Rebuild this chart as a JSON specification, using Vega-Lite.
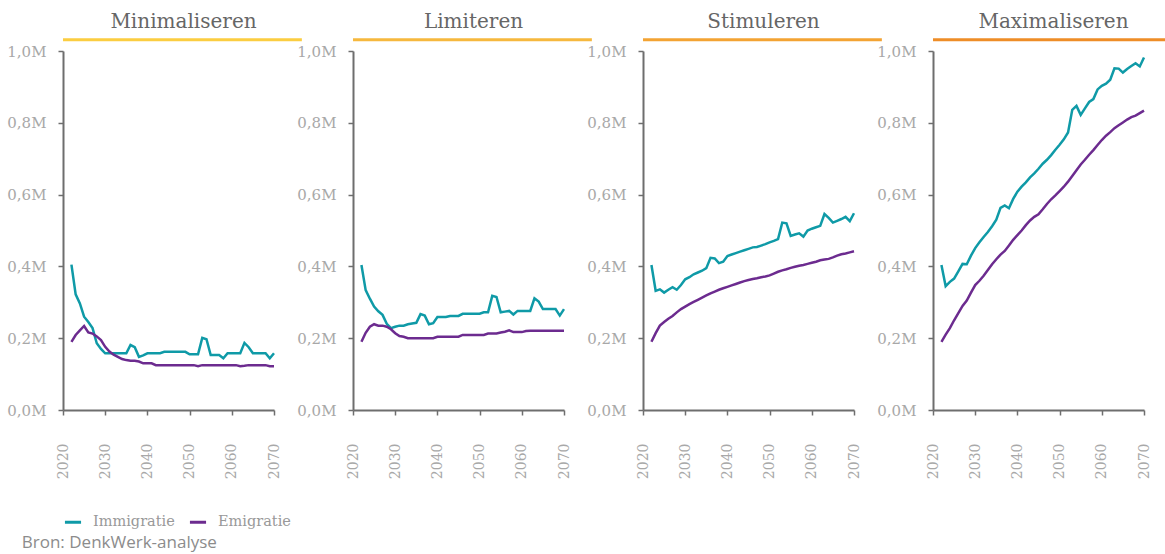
{
  "$schema": "https://vega.github.io/schema/vega-lite/v6.json",
  "background": "white",
  "padding": {"left": 6, "top": 12, "right": 0, "bottom": 2},
  "datasets": {
    "Minimaliseren": [
      {"type":"Immigratie","jaar":2022,"waarde":0.405},{"type":"Immigratie","jaar":2023,"waarde":0.322},{"type":"Immigratie","jaar":2024,"waarde":0.297},{"type":"Immigratie","jaar":2025,"waarde":0.26},{"type":"Immigratie","jaar":2026,"waarde":0.245},{"type":"Immigratie","jaar":2027,"waarde":0.228},{"type":"Immigratie","jaar":2028,"waarde":0.186},{"type":"Immigratie","jaar":2029,"waarde":0.17},{"type":"Immigratie","jaar":2030,"waarde":0.158},{"type":"Immigratie","jaar":2031,"waarde":0.158},{"type":"Immigratie","jaar":2032,"waarde":0.158},{"type":"Immigratie","jaar":2033,"waarde":0.158},{"type":"Immigratie","jaar":2034,"waarde":0.158},{"type":"Immigratie","jaar":2035,"waarde":0.158},{"type":"Immigratie","jaar":2036,"waarde":0.181},{"type":"Immigratie","jaar":2037,"waarde":0.175},{"type":"Immigratie","jaar":2038,"waarde":0.148},{"type":"Immigratie","jaar":2039,"waarde":0.152},{"type":"Immigratie","jaar":2040,"waarde":0.158},{"type":"Immigratie","jaar":2041,"waarde":0.158},{"type":"Immigratie","jaar":2042,"waarde":0.158},{"type":"Immigratie","jaar":2043,"waarde":0.158},{"type":"Immigratie","jaar":2044,"waarde":0.162},{"type":"Immigratie","jaar":2045,"waarde":0.162},{"type":"Immigratie","jaar":2046,"waarde":0.162},{"type":"Immigratie","jaar":2047,"waarde":0.162},{"type":"Immigratie","jaar":2048,"waarde":0.162},{"type":"Immigratie","jaar":2049,"waarde":0.162},{"type":"Immigratie","jaar":2050,"waarde":0.155},{"type":"Immigratie","jaar":2051,"waarde":0.155},{"type":"Immigratie","jaar":2052,"waarde":0.155},{"type":"Immigratie","jaar":2053,"waarde":0.201},{"type":"Immigratie","jaar":2054,"waarde":0.197},{"type":"Immigratie","jaar":2055,"waarde":0.153},{"type":"Immigratie","jaar":2056,"waarde":0.153},{"type":"Immigratie","jaar":2057,"waarde":0.153},{"type":"Immigratie","jaar":2058,"waarde":0.144},{"type":"Immigratie","jaar":2059,"waarde":0.158},{"type":"Immigratie","jaar":2060,"waarde":0.158},{"type":"Immigratie","jaar":2061,"waarde":0.158},{"type":"Immigratie","jaar":2062,"waarde":0.158},{"type":"Immigratie","jaar":2063,"waarde":0.187},{"type":"Immigratie","jaar":2064,"waarde":0.175},{"type":"Immigratie","jaar":2065,"waarde":0.158},{"type":"Immigratie","jaar":2066,"waarde":0.158},{"type":"Immigratie","jaar":2067,"waarde":0.158},{"type":"Immigratie","jaar":2068,"waarde":0.158},{"type":"Immigratie","jaar":2069,"waarde":0.144},{"type":"Immigratie","jaar":2070,"waarde":0.158},
      {"type":"Emigratie","jaar":2022,"waarde":0.19},{"type":"Emigratie","jaar":2023,"waarde":0.209},{"type":"Emigratie","jaar":2024,"waarde":0.222},{"type":"Emigratie","jaar":2025,"waarde":0.234},{"type":"Emigratie","jaar":2026,"waarde":0.216},{"type":"Emigratie","jaar":2027,"waarde":0.213},{"type":"Emigratie","jaar":2028,"waarde":0.205},{"type":"Emigratie","jaar":2029,"waarde":0.195},{"type":"Emigratie","jaar":2030,"waarde":0.176},{"type":"Emigratie","jaar":2031,"waarde":0.163},{"type":"Emigratie","jaar":2032,"waarde":0.154},{"type":"Emigratie","jaar":2033,"waarde":0.148},{"type":"Emigratie","jaar":2034,"waarde":0.142},{"type":"Emigratie","jaar":2035,"waarde":0.139},{"type":"Emigratie","jaar":2036,"waarde":0.137},{"type":"Emigratie","jaar":2037,"waarde":0.137},{"type":"Emigratie","jaar":2038,"waarde":0.135},{"type":"Emigratie","jaar":2039,"waarde":0.13},{"type":"Emigratie","jaar":2040,"waarde":0.13},{"type":"Emigratie","jaar":2041,"waarde":0.13},{"type":"Emigratie","jaar":2042,"waarde":0.125},{"type":"Emigratie","jaar":2043,"waarde":0.125},{"type":"Emigratie","jaar":2044,"waarde":0.125},{"type":"Emigratie","jaar":2045,"waarde":0.125},{"type":"Emigratie","jaar":2046,"waarde":0.125},{"type":"Emigratie","jaar":2047,"waarde":0.125},{"type":"Emigratie","jaar":2048,"waarde":0.125},{"type":"Emigratie","jaar":2049,"waarde":0.125},{"type":"Emigratie","jaar":2050,"waarde":0.125},{"type":"Emigratie","jaar":2051,"waarde":0.125},{"type":"Emigratie","jaar":2052,"waarde":0.122},{"type":"Emigratie","jaar":2053,"waarde":0.125},{"type":"Emigratie","jaar":2054,"waarde":0.125},{"type":"Emigratie","jaar":2055,"waarde":0.125},{"type":"Emigratie","jaar":2056,"waarde":0.125},{"type":"Emigratie","jaar":2057,"waarde":0.125},{"type":"Emigratie","jaar":2058,"waarde":0.125},{"type":"Emigratie","jaar":2059,"waarde":0.125},{"type":"Emigratie","jaar":2060,"waarde":0.125},{"type":"Emigratie","jaar":2061,"waarde":0.125},{"type":"Emigratie","jaar":2062,"waarde":0.122},{"type":"Emigratie","jaar":2063,"waarde":0.123},{"type":"Emigratie","jaar":2064,"waarde":0.125},{"type":"Emigratie","jaar":2065,"waarde":0.125},{"type":"Emigratie","jaar":2066,"waarde":0.125},{"type":"Emigratie","jaar":2067,"waarde":0.125},{"type":"Emigratie","jaar":2068,"waarde":0.125},{"type":"Emigratie","jaar":2069,"waarde":0.122},{"type":"Emigratie","jaar":2070,"waarde":0.122}
    ],
    "Limiteren": [
      {"type":"Immigratie","jaar":2022,"waarde":0.404},{"type":"Immigratie","jaar":2023,"waarde":0.334},{"type":"Immigratie","jaar":2024,"waarde":0.31},{"type":"Immigratie","jaar":2025,"waarde":0.288},{"type":"Immigratie","jaar":2026,"waarde":0.275},{"type":"Immigratie","jaar":2027,"waarde":0.265},{"type":"Immigratie","jaar":2028,"waarde":0.24},{"type":"Immigratie","jaar":2029,"waarde":0.228},{"type":"Immigratie","jaar":2030,"waarde":0.232},{"type":"Immigratie","jaar":2031,"waarde":0.235},{"type":"Immigratie","jaar":2032,"waarde":0.235},{"type":"Immigratie","jaar":2033,"waarde":0.239},{"type":"Immigratie","jaar":2034,"waarde":0.241},{"type":"Immigratie","jaar":2035,"waarde":0.243},{"type":"Immigratie","jaar":2036,"waarde":0.267},{"type":"Immigratie","jaar":2037,"waarde":0.263},{"type":"Immigratie","jaar":2038,"waarde":0.239},{"type":"Immigratie","jaar":2039,"waarde":0.242},{"type":"Immigratie","jaar":2040,"waarde":0.259},{"type":"Immigratie","jaar":2041,"waarde":0.259},{"type":"Immigratie","jaar":2042,"waarde":0.259},{"type":"Immigratie","jaar":2043,"waarde":0.262},{"type":"Immigratie","jaar":2044,"waarde":0.262},{"type":"Immigratie","jaar":2045,"waarde":0.262},{"type":"Immigratie","jaar":2046,"waarde":0.268},{"type":"Immigratie","jaar":2047,"waarde":0.268},{"type":"Immigratie","jaar":2048,"waarde":0.268},{"type":"Immigratie","jaar":2049,"waarde":0.268},{"type":"Immigratie","jaar":2050,"waarde":0.268},{"type":"Immigratie","jaar":2051,"waarde":0.272},{"type":"Immigratie","jaar":2052,"waarde":0.272},{"type":"Immigratie","jaar":2053,"waarde":0.318},{"type":"Immigratie","jaar":2054,"waarde":0.315},{"type":"Immigratie","jaar":2055,"waarde":0.272},{"type":"Immigratie","jaar":2056,"waarde":0.274},{"type":"Immigratie","jaar":2057,"waarde":0.276},{"type":"Immigratie","jaar":2058,"waarde":0.266},{"type":"Immigratie","jaar":2059,"waarde":0.276},{"type":"Immigratie","jaar":2060,"waarde":0.276},{"type":"Immigratie","jaar":2061,"waarde":0.276},{"type":"Immigratie","jaar":2062,"waarde":0.276},{"type":"Immigratie","jaar":2063,"waarde":0.311},{"type":"Immigratie","jaar":2064,"waarde":0.302},{"type":"Immigratie","jaar":2065,"waarde":0.281},{"type":"Immigratie","jaar":2066,"waarde":0.281},{"type":"Immigratie","jaar":2067,"waarde":0.281},{"type":"Immigratie","jaar":2068,"waarde":0.281},{"type":"Immigratie","jaar":2069,"waarde":0.263},{"type":"Immigratie","jaar":2070,"waarde":0.281},
      {"type":"Emigratie","jaar":2022,"waarde":0.19},{"type":"Emigratie","jaar":2023,"waarde":0.215},{"type":"Emigratie","jaar":2024,"waarde":0.232},{"type":"Emigratie","jaar":2025,"waarde":0.239},{"type":"Emigratie","jaar":2026,"waarde":0.235},{"type":"Emigratie","jaar":2027,"waarde":0.235},{"type":"Emigratie","jaar":2028,"waarde":0.232},{"type":"Emigratie","jaar":2029,"waarde":0.225},{"type":"Emigratie","jaar":2030,"waarde":0.214},{"type":"Emigratie","jaar":2031,"waarde":0.206},{"type":"Emigratie","jaar":2032,"waarde":0.204},{"type":"Emigratie","jaar":2033,"waarde":0.2},{"type":"Emigratie","jaar":2034,"waarde":0.2},{"type":"Emigratie","jaar":2035,"waarde":0.2},{"type":"Emigratie","jaar":2036,"waarde":0.2},{"type":"Emigratie","jaar":2037,"waarde":0.2},{"type":"Emigratie","jaar":2038,"waarde":0.2},{"type":"Emigratie","jaar":2039,"waarde":0.2},{"type":"Emigratie","jaar":2040,"waarde":0.204},{"type":"Emigratie","jaar":2041,"waarde":0.204},{"type":"Emigratie","jaar":2042,"waarde":0.204},{"type":"Emigratie","jaar":2043,"waarde":0.204},{"type":"Emigratie","jaar":2044,"waarde":0.204},{"type":"Emigratie","jaar":2045,"waarde":0.204},{"type":"Emigratie","jaar":2046,"waarde":0.209},{"type":"Emigratie","jaar":2047,"waarde":0.209},{"type":"Emigratie","jaar":2048,"waarde":0.209},{"type":"Emigratie","jaar":2049,"waarde":0.209},{"type":"Emigratie","jaar":2050,"waarde":0.209},{"type":"Emigratie","jaar":2051,"waarde":0.209},{"type":"Emigratie","jaar":2052,"waarde":0.213},{"type":"Emigratie","jaar":2053,"waarde":0.213},{"type":"Emigratie","jaar":2054,"waarde":0.213},{"type":"Emigratie","jaar":2055,"waarde":0.216},{"type":"Emigratie","jaar":2056,"waarde":0.218},{"type":"Emigratie","jaar":2057,"waarde":0.222},{"type":"Emigratie","jaar":2058,"waarde":0.217},{"type":"Emigratie","jaar":2059,"waarde":0.217},{"type":"Emigratie","jaar":2060,"waarde":0.217},{"type":"Emigratie","jaar":2061,"waarde":0.22},{"type":"Emigratie","jaar":2062,"waarde":0.221},{"type":"Emigratie","jaar":2063,"waarde":0.221},{"type":"Emigratie","jaar":2064,"waarde":0.221},{"type":"Emigratie","jaar":2065,"waarde":0.221},{"type":"Emigratie","jaar":2066,"waarde":0.221},{"type":"Emigratie","jaar":2067,"waarde":0.221},{"type":"Emigratie","jaar":2068,"waarde":0.221},{"type":"Emigratie","jaar":2069,"waarde":0.221},{"type":"Emigratie","jaar":2070,"waarde":0.221}
    ],
    "Stimuleren": [
      {"type":"Immigratie","jaar":2022,"waarde":0.404},{"type":"Immigratie","jaar":2023,"waarde":0.332},{"type":"Immigratie","jaar":2024,"waarde":0.336},{"type":"Immigratie","jaar":2025,"waarde":0.327},{"type":"Immigratie","jaar":2026,"waarde":0.335},{"type":"Immigratie","jaar":2027,"waarde":0.342},{"type":"Immigratie","jaar":2028,"waarde":0.335},{"type":"Immigratie","jaar":2029,"waarde":0.348},{"type":"Immigratie","jaar":2030,"waarde":0.364},{"type":"Immigratie","jaar":2031,"waarde":0.37},{"type":"Immigratie","jaar":2032,"waarde":0.378},{"type":"Immigratie","jaar":2033,"waarde":0.383},{"type":"Immigratie","jaar":2034,"waarde":0.388},{"type":"Immigratie","jaar":2035,"waarde":0.395},{"type":"Immigratie","jaar":2036,"waarde":0.424},{"type":"Immigratie","jaar":2037,"waarde":0.422},{"type":"Immigratie","jaar":2038,"waarde":0.409},{"type":"Immigratie","jaar":2039,"waarde":0.413},{"type":"Immigratie","jaar":2040,"waarde":0.429},{"type":"Immigratie","jaar":2041,"waarde":0.433},{"type":"Immigratie","jaar":2042,"waarde":0.437},{"type":"Immigratie","jaar":2043,"waarde":0.441},{"type":"Immigratie","jaar":2044,"waarde":0.445},{"type":"Immigratie","jaar":2045,"waarde":0.449},{"type":"Immigratie","jaar":2046,"waarde":0.453},{"type":"Immigratie","jaar":2047,"waarde":0.454},{"type":"Immigratie","jaar":2048,"waarde":0.458},{"type":"Immigratie","jaar":2049,"waarde":0.462},{"type":"Immigratie","jaar":2050,"waarde":0.467},{"type":"Immigratie","jaar":2051,"waarde":0.471},{"type":"Immigratie","jaar":2052,"waarde":0.476},{"type":"Immigratie","jaar":2053,"waarde":0.522},{"type":"Immigratie","jaar":2054,"waarde":0.52},{"type":"Immigratie","jaar":2055,"waarde":0.485},{"type":"Immigratie","jaar":2056,"waarde":0.489},{"type":"Immigratie","jaar":2057,"waarde":0.492},{"type":"Immigratie","jaar":2058,"waarde":0.483},{"type":"Immigratie","jaar":2059,"waarde":0.5},{"type":"Immigratie","jaar":2060,"waarde":0.505},{"type":"Immigratie","jaar":2061,"waarde":0.509},{"type":"Immigratie","jaar":2062,"waarde":0.513},{"type":"Immigratie","jaar":2063,"waarde":0.546},{"type":"Immigratie","jaar":2064,"waarde":0.535},{"type":"Immigratie","jaar":2065,"waarde":0.522},{"type":"Immigratie","jaar":2066,"waarde":0.527},{"type":"Immigratie","jaar":2067,"waarde":0.532},{"type":"Immigratie","jaar":2068,"waarde":0.538},{"type":"Immigratie","jaar":2069,"waarde":0.526},{"type":"Immigratie","jaar":2070,"waarde":0.548},
      {"type":"Emigratie","jaar":2022,"waarde":0.19},{"type":"Emigratie","jaar":2023,"waarde":0.214},{"type":"Emigratie","jaar":2024,"waarde":0.235},{"type":"Emigratie","jaar":2025,"waarde":0.245},{"type":"Emigratie","jaar":2026,"waarde":0.254},{"type":"Emigratie","jaar":2027,"waarde":0.262},{"type":"Emigratie","jaar":2028,"waarde":0.272},{"type":"Emigratie","jaar":2029,"waarde":0.281},{"type":"Emigratie","jaar":2030,"waarde":0.288},{"type":"Emigratie","jaar":2031,"waarde":0.295},{"type":"Emigratie","jaar":2032,"waarde":0.301},{"type":"Emigratie","jaar":2033,"waarde":0.307},{"type":"Emigratie","jaar":2034,"waarde":0.313},{"type":"Emigratie","jaar":2035,"waarde":0.319},{"type":"Emigratie","jaar":2036,"waarde":0.325},{"type":"Emigratie","jaar":2037,"waarde":0.33},{"type":"Emigratie","jaar":2038,"waarde":0.335},{"type":"Emigratie","jaar":2039,"waarde":0.339},{"type":"Emigratie","jaar":2040,"waarde":0.343},{"type":"Emigratie","jaar":2041,"waarde":0.347},{"type":"Emigratie","jaar":2042,"waarde":0.351},{"type":"Emigratie","jaar":2043,"waarde":0.355},{"type":"Emigratie","jaar":2044,"waarde":0.359},{"type":"Emigratie","jaar":2045,"waarde":0.362},{"type":"Emigratie","jaar":2046,"waarde":0.365},{"type":"Emigratie","jaar":2047,"waarde":0.367},{"type":"Emigratie","jaar":2048,"waarde":0.37},{"type":"Emigratie","jaar":2049,"waarde":0.372},{"type":"Emigratie","jaar":2050,"waarde":0.375},{"type":"Emigratie","jaar":2051,"waarde":0.38},{"type":"Emigratie","jaar":2052,"waarde":0.385},{"type":"Emigratie","jaar":2053,"waarde":0.389},{"type":"Emigratie","jaar":2054,"waarde":0.392},{"type":"Emigratie","jaar":2055,"waarde":0.396},{"type":"Emigratie","jaar":2056,"waarde":0.399},{"type":"Emigratie","jaar":2057,"waarde":0.402},{"type":"Emigratie","jaar":2058,"waarde":0.404},{"type":"Emigratie","jaar":2059,"waarde":0.407},{"type":"Emigratie","jaar":2060,"waarde":0.41},{"type":"Emigratie","jaar":2061,"waarde":0.413},{"type":"Emigratie","jaar":2062,"waarde":0.417},{"type":"Emigratie","jaar":2063,"waarde":0.419},{"type":"Emigratie","jaar":2064,"waarde":0.421},{"type":"Emigratie","jaar":2065,"waarde":0.425},{"type":"Emigratie","jaar":2066,"waarde":0.43},{"type":"Emigratie","jaar":2067,"waarde":0.434},{"type":"Emigratie","jaar":2068,"waarde":0.436},{"type":"Emigratie","jaar":2069,"waarde":0.439},{"type":"Emigratie","jaar":2070,"waarde":0.442}
    ],
    "Maximaliseren": [
      {"type":"Immigratie","jaar":2022,"waarde":0.404},{"type":"Immigratie","jaar":2023,"waarde":0.345},{"type":"Immigratie","jaar":2024,"waarde":0.357},{"type":"Immigratie","jaar":2025,"waarde":0.366},{"type":"Immigratie","jaar":2026,"waarde":0.386},{"type":"Immigratie","jaar":2027,"waarde":0.407},{"type":"Immigratie","jaar":2028,"waarde":0.406},{"type":"Immigratie","jaar":2029,"waarde":0.43},{"type":"Immigratie","jaar":2030,"waarde":0.451},{"type":"Immigratie","jaar":2031,"waarde":0.467},{"type":"Immigratie","jaar":2032,"waarde":0.482},{"type":"Immigratie","jaar":2033,"waarde":0.496},{"type":"Immigratie","jaar":2034,"waarde":0.512},{"type":"Immigratie","jaar":2035,"waarde":0.53},{"type":"Immigratie","jaar":2036,"waarde":0.563},{"type":"Immigratie","jaar":2037,"waarde":0.57},{"type":"Immigratie","jaar":2038,"waarde":0.562},{"type":"Immigratie","jaar":2039,"waarde":0.588},{"type":"Immigratie","jaar":2040,"waarde":0.608},{"type":"Immigratie","jaar":2041,"waarde":0.622},{"type":"Immigratie","jaar":2042,"waarde":0.634},{"type":"Immigratie","jaar":2043,"waarde":0.648},{"type":"Immigratie","jaar":2044,"waarde":0.659},{"type":"Immigratie","jaar":2045,"waarde":0.672},{"type":"Immigratie","jaar":2046,"waarde":0.686},{"type":"Immigratie","jaar":2047,"waarde":0.697},{"type":"Immigratie","jaar":2048,"waarde":0.71},{"type":"Immigratie","jaar":2049,"waarde":0.725},{"type":"Immigratie","jaar":2050,"waarde":0.739},{"type":"Immigratie","jaar":2051,"waarde":0.754},{"type":"Immigratie","jaar":2052,"waarde":0.773},{"type":"Immigratie","jaar":2053,"waarde":0.836},{"type":"Immigratie","jaar":2054,"waarde":0.847},{"type":"Immigratie","jaar":2055,"waarde":0.822},{"type":"Immigratie","jaar":2056,"waarde":0.84},{"type":"Immigratie","jaar":2057,"waarde":0.858},{"type":"Immigratie","jaar":2058,"waarde":0.866},{"type":"Immigratie","jaar":2059,"waarde":0.893},{"type":"Immigratie","jaar":2060,"waarde":0.903},{"type":"Immigratie","jaar":2061,"waarde":0.909},{"type":"Immigratie","jaar":2062,"waarde":0.92},{"type":"Immigratie","jaar":2063,"waarde":0.952},{"type":"Immigratie","jaar":2064,"waarde":0.951},{"type":"Immigratie","jaar":2065,"waarde":0.94},{"type":"Immigratie","jaar":2066,"waarde":0.95},{"type":"Immigratie","jaar":2067,"waarde":0.958},{"type":"Immigratie","jaar":2068,"waarde":0.966},{"type":"Immigratie","jaar":2069,"waarde":0.957},{"type":"Immigratie","jaar":2070,"waarde":0.982},
      {"type":"Emigratie","jaar":2022,"waarde":0.19},{"type":"Emigratie","jaar":2023,"waarde":0.21},{"type":"Emigratie","jaar":2024,"waarde":0.228},{"type":"Emigratie","jaar":2025,"waarde":0.25},{"type":"Emigratie","jaar":2026,"waarde":0.27},{"type":"Emigratie","jaar":2027,"waarde":0.29},{"type":"Emigratie","jaar":2028,"waarde":0.305},{"type":"Emigratie","jaar":2029,"waarde":0.327},{"type":"Emigratie","jaar":2030,"waarde":0.348},{"type":"Emigratie","jaar":2031,"waarde":0.36},{"type":"Emigratie","jaar":2032,"waarde":0.374},{"type":"Emigratie","jaar":2033,"waarde":0.39},{"type":"Emigratie","jaar":2034,"waarde":0.406},{"type":"Emigratie","jaar":2035,"waarde":0.42},{"type":"Emigratie","jaar":2036,"waarde":0.433},{"type":"Emigratie","jaar":2037,"waarde":0.443},{"type":"Emigratie","jaar":2038,"waarde":0.458},{"type":"Emigratie","jaar":2039,"waarde":0.474},{"type":"Emigratie","jaar":2040,"waarde":0.487},{"type":"Emigratie","jaar":2041,"waarde":0.5},{"type":"Emigratie","jaar":2042,"waarde":0.515},{"type":"Emigratie","jaar":2043,"waarde":0.528},{"type":"Emigratie","jaar":2044,"waarde":0.538},{"type":"Emigratie","jaar":2045,"waarde":0.545},{"type":"Emigratie","jaar":2046,"waarde":0.559},{"type":"Emigratie","jaar":2047,"waarde":0.574},{"type":"Emigratie","jaar":2048,"waarde":0.587},{"type":"Emigratie","jaar":2049,"waarde":0.598},{"type":"Emigratie","jaar":2050,"waarde":0.61},{"type":"Emigratie","jaar":2051,"waarde":0.622},{"type":"Emigratie","jaar":2052,"waarde":0.636},{"type":"Emigratie","jaar":2053,"waarde":0.652},{"type":"Emigratie","jaar":2054,"waarde":0.668},{"type":"Emigratie","jaar":2055,"waarde":0.684},{"type":"Emigratie","jaar":2056,"waarde":0.697},{"type":"Emigratie","jaar":2057,"waarde":0.711},{"type":"Emigratie","jaar":2058,"waarde":0.724},{"type":"Emigratie","jaar":2059,"waarde":0.738},{"type":"Emigratie","jaar":2060,"waarde":0.752},{"type":"Emigratie","jaar":2061,"waarde":0.764},{"type":"Emigratie","jaar":2062,"waarde":0.774},{"type":"Emigratie","jaar":2063,"waarde":0.785},{"type":"Emigratie","jaar":2064,"waarde":0.793},{"type":"Emigratie","jaar":2065,"waarde":0.801},{"type":"Emigratie","jaar":2066,"waarde":0.809},{"type":"Emigratie","jaar":2067,"waarde":0.816},{"type":"Emigratie","jaar":2068,"waarde":0.82},{"type":"Emigratie","jaar":2069,"waarde":0.827},{"type":"Emigratie","jaar":2070,"waarde":0.834}
    ]
  },
  "title": {"text": "Bron: DenkWerk-analyse", "orient": "bottom", "anchor": "start", "font": "Open Sans", "fontSize": 17, "fontWeight": "normal", "color": "#8c8c8c", "offset": 6, "frame": "bounds"},
  "spacing": 79,
  "bounds": "flush",
  "config": {
    "view": {"stroke": null},
    "axis": {"grid": false, "domainColor": "#6e6e6e", "domainWidth": 2, "tickColor": "#6e6e6e", "tickWidth": 1.5, "tickSize": 5, "labelColor": "#a8a8a8", "labelFont": "DejaVu Serif", "titleFont": "DejaVu Serif"},
    "title": {"font": "DejaVu Serif", "fontSize": 20, "fontWeight": "normal", "color": "#666666", "frame": "group", "baseline": "alphabetic", "offset": 6, "dx": 15},
    "legend": {"orient": "bottom", "direction": "horizontal", "title": null, "symbolType": "stroke", "symbolStrokeWidth": 3, "symbolSize": 260, "labelFont": "DejaVu Serif", "labelFontSize": 14.5, "labelColor": "#999999", "labelOffset": 10, "columnPadding": 8, "offset": 33}
  },
  "hconcat": [
    {"width": 211, "height": 359, "title": {"text": "Minimaliseren"},
     "layer": [
      {"data": {"name": "Minimaliseren"}, "mark": {"type": "line", "strokeWidth": 2.5},
       "encoding": {
        "x": {"field": "jaar", "type": "quantitative", "scale": {"domain": [2020, 2070], "nice": false, "zero": false}, "axis": {"title": null, "values": [2020, 2030, 2040, 2050, 2060, 2070], "format": "d", "labelAngle": -90, "labelFontSize": 14, "labelPadding": 28}},
        "y": {"field": "waarde", "type": "quantitative", "scale": {"domain": [0, 1], "nice": false}, "axis": {"title": null, "values": [0, 0.2, 0.4, 0.6, 0.8, 1], "labelExpr": "replace(format(datum.value, '.1f'), '.', ',') + 'M'", "labelFontSize": 15, "labelPadding": 12}},
        "color": {"field": "type", "type": "nominal", "scale": {"domain": ["Immigratie", "Emigratie"], "range": ["#0f9aa7", "#6c2b8f"]}, "legend": {}}}},
      {"data": {"values": [{}]}, "mark": {"type": "rule", "color": "#fbcd41", "strokeWidth": 3},
       "encoding": {"x": {"datum": 2020}, "x2": {"datum": 2076.6}, "y": {"datum": 1.031}}}
     ]},
    {"width": 211, "height": 359, "title": {"text": "Limiteren"},
     "layer": [
      {"data": {"name": "Limiteren"}, "mark": {"type": "line", "strokeWidth": 2.5},
       "encoding": {
        "x": {"field": "jaar", "type": "quantitative", "scale": {"domain": [2020, 2070], "nice": false, "zero": false}, "axis": {"title": null, "values": [2020, 2030, 2040, 2050, 2060, 2070], "format": "d", "labelAngle": -90, "labelFontSize": 14, "labelPadding": 28}},
        "y": {"field": "waarde", "type": "quantitative", "scale": {"domain": [0, 1], "nice": false}, "axis": {"title": null, "values": [0, 0.2, 0.4, 0.6, 0.8, 1], "labelExpr": "replace(format(datum.value, '.1f'), '.', ',') + 'M'", "labelFontSize": 15, "labelPadding": 12}},
        "color": {"field": "type", "type": "nominal", "scale": {"domain": ["Immigratie", "Emigratie"], "range": ["#0f9aa7", "#6c2b8f"]}}}},
      {"data": {"values": [{}]}, "mark": {"type": "rule", "color": "#f6b83e", "strokeWidth": 3},
       "encoding": {"x": {"datum": 2020}, "x2": {"datum": 2076.6}, "y": {"datum": 1.031}}}
     ]},
    {"width": 211, "height": 359, "title": {"text": "Stimuleren"},
     "layer": [
      {"data": {"name": "Stimuleren"}, "mark": {"type": "line", "strokeWidth": 2.5},
       "encoding": {
        "x": {"field": "jaar", "type": "quantitative", "scale": {"domain": [2020, 2070], "nice": false, "zero": false}, "axis": {"title": null, "values": [2020, 2030, 2040, 2050, 2060, 2070], "format": "d", "labelAngle": -90, "labelFontSize": 14, "labelPadding": 28}},
        "y": {"field": "waarde", "type": "quantitative", "scale": {"domain": [0, 1], "nice": false}, "axis": {"title": null, "values": [0, 0.2, 0.4, 0.6, 0.8, 1], "labelExpr": "replace(format(datum.value, '.1f'), '.', ',') + 'M'", "labelFontSize": 15, "labelPadding": 12}},
        "color": {"field": "type", "type": "nominal", "scale": {"domain": ["Immigratie", "Emigratie"], "range": ["#0f9aa7", "#6c2b8f"]}}}},
      {"data": {"values": [{}]}, "mark": {"type": "rule", "color": "#f3a333", "strokeWidth": 3},
       "encoding": {"x": {"datum": 2020}, "x2": {"datum": 2076.6}, "y": {"datum": 1.031}}}
     ]},
    {"width": 211, "height": 359, "title": {"text": "Maximaliseren"},
     "layer": [
      {"data": {"name": "Maximaliseren"}, "mark": {"type": "line", "strokeWidth": 2.5},
       "encoding": {
        "x": {"field": "jaar", "type": "quantitative", "scale": {"domain": [2020, 2070], "nice": false, "zero": false}, "axis": {"title": null, "values": [2020, 2030, 2040, 2050, 2060, 2070], "format": "d", "labelAngle": -90, "labelFontSize": 14, "labelPadding": 28}},
        "y": {"field": "waarde", "type": "quantitative", "scale": {"domain": [0, 1], "nice": false}, "axis": {"title": null, "values": [0, 0.2, 0.4, 0.6, 0.8, 1], "labelExpr": "replace(format(datum.value, '.1f'), '.', ',') + 'M'", "labelFontSize": 15, "labelPadding": 12}},
        "color": {"field": "type", "type": "nominal", "scale": {"domain": ["Immigratie", "Emigratie"], "range": ["#0f9aa7", "#6c2b8f"]}}}},
      {"data": {"values": [{}]}, "mark": {"type": "rule", "color": "#ee8d27", "strokeWidth": 3},
       "encoding": {"x": {"datum": 2020}, "x2": {"datum": 2076.6}, "y": {"datum": 1.031}}}
     ]}
  ]
}
